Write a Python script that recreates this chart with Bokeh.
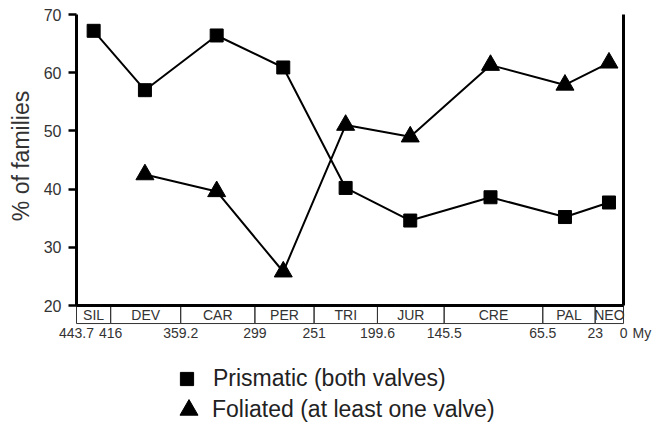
import math
from bokeh.plotting import figure
from bokeh.models import Range1d, LinearAxis, FixedTicker, Legend, LegendItem
from bokeh.core.properties import value
from bokeh.embed import file_html
from bokeh.resources import INLINE

# ---- data ----
PERIODS = ["SIL", "DEV", "CAR", "PER", "TRI", "JUR", "CRE", "PAL", "NEO"]
BOUNDARIES = [443.7, 416, 359.2, 299, 251, 199.6, 145.5, 65.5, 23, 0]
BOUNDARY_LABELS = ["443.7", "416", "359.2", "299", "251", "199.6",
                   "145.5", "65.5", "23", "0"]
UNIT_LABEL = "My"
Y_LABEL = "% of families"
POINT_AGES = [429.8, 388.2, 330.0, 276.0, 225.4, 173.0, 107.9, 47.5, 11.8]
PRISMATIC = [67.2, 57.0, 66.4, 60.9, 40.2, 34.6, 38.6, 35.2, 37.7]
FOLIATED = [float("nan"), 42.5, 39.6, 25.8, 51.0, 49.0, 61.3, 57.9, 61.7]
Y_TICKS = [20, 30, 40, 50, 60, 70]

mid = [(BOUNDARIES[i] + BOUNDARIES[i + 1]) / 2 for i in range(len(PERIODS))]

# ---- layout constants ----
FONT = "Liberation Sans"
BAND_TOP, BAND_BOTTOM = 20, 16.9
AGE_LABEL_Y = 15.36
X_RANGE = (505.35, -23.5)   # frame spans whole canvas
Y_RANGE = (-0.62, 72.41)
TXT = "#333333"

p = figure(width=652, height=425, output_backend="svg", toolbar_location=None,
           x_range=Range1d(*X_RANGE), y_range=Range1d(*Y_RANGE),
           x_axis_type=None, y_axis_type=None,
           min_border_left=0, min_border_right=0,
           min_border_top=0, min_border_bottom=0)
p.outline_line_color = None
p.background_fill_color = "white"

# left axis at 443.7 My
yax = LinearAxis(fixed_location=BOUNDARIES[0], ticker=FixedTicker(ticks=Y_TICKS),
                 bounds=(Y_TICKS[0], Y_TICKS[-1]))
yax.axis_line_width = 3
yax.axis_line_color = "black"
yax.major_tick_line_width = 2.5
yax.major_tick_out = 8
yax.major_tick_in = 0
yax.minor_tick_line_color = None
yax.major_label_standoff = 7
yax.major_label_text_font = FONT
yax.major_label_text_font_size = "16px"
yax.major_label_text_color = TXT
p.add_layout(yax, "left")

p.text(x=[BOUNDARIES[0]], y=[(Y_TICKS[0] + Y_TICKS[-1]) / 2], text=[Y_LABEL],
       angle=math.pi / 2, x_offset=-56, y_offset=-4,
       text_align="center", text_baseline="alphabetic",
       text_font=value(FONT), text_font_size="23px", text_color=TXT)

# right axis line at 0 My
rax = LinearAxis(fixed_location=BOUNDARIES[-1], ticker=FixedTicker(ticks=[]),
                 bounds=(Y_TICKS[0], Y_TICKS[-1]))
rax.axis_line_width = 3
rax.axis_line_color = "black"
rax.major_tick_line_color = None
rax.minor_tick_line_color = None
rax.major_label_text_font_size = "0px"
p.add_layout(rax, "right")

# x axis line at 20 %
xax = LinearAxis(fixed_location=Y_TICKS[0], ticker=FixedTicker(ticks=[]),
                 bounds=(BOUNDARIES[0], BOUNDARIES[-1]))
xax.axis_line_width = 3
xax.axis_line_color = "black"
xax.major_tick_line_color = None
xax.minor_tick_line_color = None
xax.major_label_text_font_size = "0px"
p.add_layout(xax, "below")

# period band
p.quad(left=BOUNDARIES[:-1], right=BOUNDARIES[1:], bottom=BAND_BOTTOM,
       top=BAND_TOP, fill_color=None, line_color=TXT, line_width=1)
p.text(x=mid, y=[(BAND_TOP + BAND_BOTTOM) / 2] * len(mid), text=PERIODS,
       text_align="center", text_baseline="middle",
       text_font=value(FONT), text_font_size="14px", text_color=TXT)

# boundary ages
p.text(x=BOUNDARIES, y=[AGE_LABEL_Y] * len(BOUNDARIES), text=BOUNDARY_LABELS,
       text_align="center", text_baseline="middle",
       text_font=value(FONT), text_font_size="14px", text_color=TXT)
p.text(x=[BOUNDARIES[-1]], y=[AGE_LABEL_Y], text=[UNIT_LABEL], x_offset=9,
       text_align="left", text_baseline="middle",
       text_font=value(FONT), text_font_size="14px", text_color=TXT)

# series
p.line(POINT_AGES, PRISMATIC, line_width=2, line_color="black")
sq = p.scatter(POINT_AGES, PRISMATIC, marker="square", size=13,
               fill_color="black", line_color="black")
p.line(POINT_AGES, FOLIATED, line_width=2, line_color="black")
tri = p.scatter(POINT_AGES, FOLIATED, marker="triangle", size=18,
                fill_color="black", line_color="black")

# legends (frame starts at canvas origin)
common = dict(padding=0, margin=0, spacing=0, border_line_color=None,
              background_fill_alpha=0, label_text_font=FONT,
              label_text_font_size="23px", label_text_color="#222222")
leg1 = Legend(items=[LegendItem(label="Prismatic (both valves)", renderers=[sq])],
              location=(170, 30), glyph_width=33, glyph_height=33,
              label_standoff=10, **common)
leg2 = Legend(items=[LegendItem(label="Foliated (at least one valve)", renderers=[tri])],
              location=(166, -7), glyph_width=45, glyph_height=45,
              label_standoff=1, **common)
p.add_layout(leg1)
p.add_layout(leg2)

open("out.html", "w").write(file_html(p, INLINE))
